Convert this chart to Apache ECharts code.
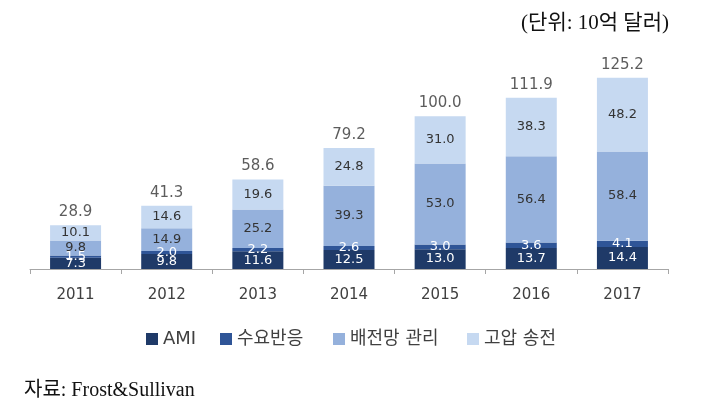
<!DOCTYPE html>
<html><head><meta charset="utf-8">
<script src="https://cdn.jsdelivr.net/npm/echarts@6/dist/echarts.min.js"></script>
<style>html,body{margin:0;padding:0;background:#fff}#c{width:717px;height:414px}</style>
</head><body><div id="c"></div>
<script>
const years = ['2011','2012','2013','2014','2015','2016','2017'];
const ami = [7.3, 9.8, 11.6, 12.5, 13.0, 13.7, 14.4];
const demand = [1.5, 2.0, 2.2, 2.6, 3.0, 3.6, 4.1];
const distribution = [9.8, 14.9, 25.2, 39.3, 53.0, 56.4, 58.4];
const transmission = [10.1, 14.6, 19.6, 24.8, 31.0, 38.3, 48.2];
const totals = [28.9, 41.3, 58.6, 79.2, 100.0, 111.9, 125.2];
const names = ['AMI', '수요반응', '배전망 관리', '고압 송전'];

const numFont = 'DejaVu Sans, Noto Sans CJK KR, sans-serif';
const fmt = p => Number(p.value).toFixed(1);
function seg(name, data, color, labelColor) {
  return {
    name, type: 'bar', stack: 'a', data, barWidth: 51,
    itemStyle: { color },
    label: { show: true, position: 'inside', formatter: fmt, color: labelColor, fontSize: 13, fontFamily: numFont }
  };
}
const legendLefts = [141, 215, 328, 462];
const legends = names.map((n, i) => ({
  data: [n], top: 325, left: legendLefts[i], icon: 'rect', itemWidth: 12, itemHeight: 12,
  textStyle: { fontSize: 18, color: '#404040', fontFamily: 'DejaVu Sans, Noto Sans CJK KR, sans-serif' }
}));
const chart = echarts.init(document.getElementById('c'));
chart.setOption({
  animation: false,
  textStyle: { fontFamily: numFont },
  title: [
    { text: '(단위: 10억 달러)', right: 43, top: 8, textStyle: { fontFamily: 'Liberation Serif, Noto Sans CJK KR, serif', fontSize: 21, fontWeight: 'normal', color: '#111' } },
    { text: '자료: Frost&Sullivan', left: 19, top: 376, textStyle: { fontFamily: 'Liberation Serif, Noto Sans CJK KR, serif', fontSize: 20, fontWeight: 'normal', color: '#111' } }
  ],
  legend: legends,
  grid: { left: 30, right: 49, top: 55, bottom: 145 },
  xAxis: {
    type: 'category', data: years,
    axisLine: { lineStyle: { color: '#a6a6a6' } },
    axisTick: { show: true, length: 5, lineStyle: { color: '#a6a6a6' } },
    axisLabel: { color: '#404040', fontSize: 15, margin: 19 }
  },
  yAxis: { type: 'value', min: 0, max: 140, show: false, splitLine: { show: false } },
  series: [
    seg(names[0], ami, '#1f3a68', '#ffffff'),
    seg(names[1], demand, '#2f5597', '#ffffff'),
    seg(names[2], distribution, '#95b1dc', '#333333'),
    seg(names[3], transmission, '#c6d9f1', '#333333'),
    {
      name: 'total', type: 'scatter', data: totals, symbolSize: 1,
      itemStyle: { color: 'rgba(255,255,255,0)' },
      label: { show: true, position: 'top', distance: 5, formatter: fmt, color: '#333333', fontSize: 15, fontFamily: numFont },
      silent: true
    }
  ]
});
</script></body></html>
